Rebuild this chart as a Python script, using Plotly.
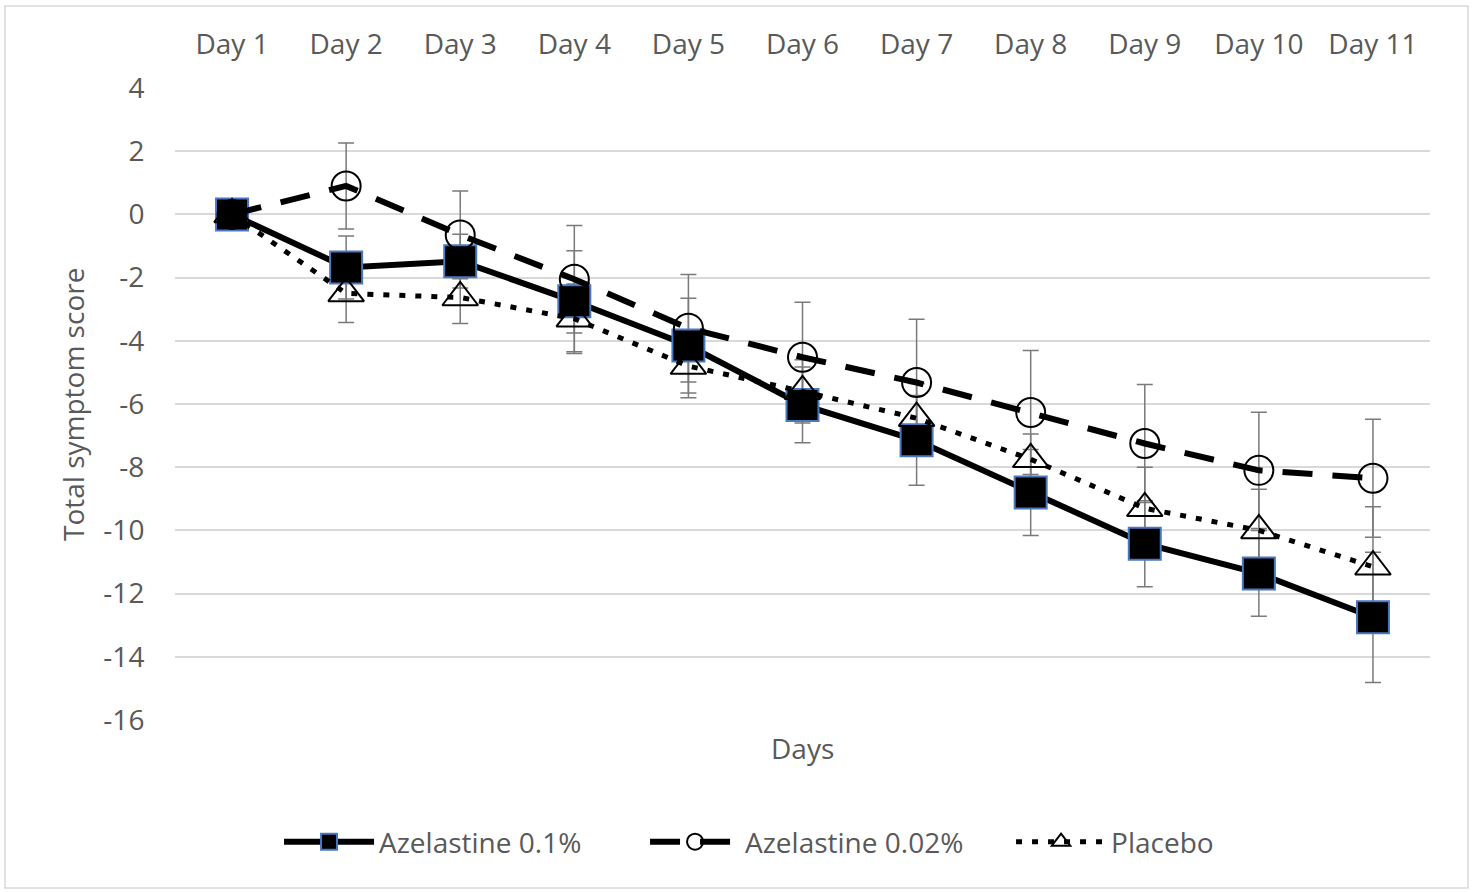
import plotly.graph_objects as go

days = ["Day 1", "Day 2", "Day 3", "Day 4", "Day 5", "Day 6", "Day 7", "Day 8", "Day 9", "Day 10", "Day 11"]

aze01 = [0, -1.68, -1.48, -2.75, -4.15, -6.03, -7.15, -8.8, -10.42, -11.36, -12.75]
aze01_err = [0, 1.0, 0.85, 1.6, 1.5, 1.2, 1.42, 1.36, 1.36, 1.36, 2.06]

aze002 = [0, 0.9, -0.65, -2.05, -3.6, -4.52, -5.32, -6.27, -7.25, -8.1, -8.35]
aze002_err = [0, 1.36, 1.39, 1.7, 1.7, 1.74, 2.0, 1.96, 1.87, 1.84, 1.87]

placebo = [0, -2.5, -2.63, -3.3, -4.8, -5.6, -6.45, -7.75, -9.3, -10.0, -11.15]
placebo_err = [0, 0.92, 0.82, 1.1, 1.0, 1.0, 1.1, 0.8, 1.3, 1.3, 1.9]

y_ticks = [4, 2, 0, -2, -4, -6, -8, -10, -12, -14, -16]
y_ticktext = ["4", "2", "0", "-2", "-4", "-6", "-8", "-10", "-12", "-14", "-16"]

FONT = "Open Sans"
TXT = "#595959"
FS = 28

fig = go.Figure()

err_style = dict(type="data", color="#7a7a7a", thickness=1.5, width=8, visible=True)

# error bars first (drawn beneath lines and markers)
for yv, ev in [(aze01, aze01_err), (aze002, aze002_err), (placebo, placebo_err)]:
    fig.add_trace(go.Scatter(
        x=days, y=yv, mode="markers", showlegend=False, hoverinfo="skip",
        marker=dict(size=1, color="rgba(0,0,0,0)"),
        error_y=dict(array=ev, **err_style),
    ))

fig.add_trace(go.Scatter(
    x=days, y=aze01, name="Azelastine 0.1%", mode="lines+markers",
    line=dict(color="black", width=6),
    marker=dict(symbol="square", size=32, color="black", line=dict(color="#4a78c0", width=2)),
))
fig.add_trace(go.Scatter(
    x=days, y=aze002, name="Azelastine 0.02%", mode="lines+markers",
    line=dict(color="black", width=6, dash="30px,20px"),
    marker=dict(symbol="circle-open", size=29, color="black", line=dict(color="black", width=2)),
))
fig.add_trace(go.Scatter(
    x=days, y=placebo, name="Placebo", mode="lines+markers",
    line=dict(color="black", width=5, dash="6px,10px"),
    marker=dict(symbol="triangle-up-open", size=31, color="black", line=dict(color="black", width=2)),
))

fig.update_layout(
    width=1476, height=892,
    margin=dict(l=175, r=46, t=88, b=172),
    paper_bgcolor="white", plot_bgcolor="white",
    font=dict(family=FONT, size=FS, color=TXT),
    showlegend=True,
    legend=dict(orientation="h", x=0.0829, xanchor="left", y=-0.193, yanchor="middle",
                font=dict(family=FONT, size=FS, color=TXT), itemwidth=90, entrywidth=261),
    xaxis=dict(type="category", categoryorder="array", categoryarray=days,
               range=[-0.5, 10.5], side="top", showgrid=False, zeroline=False,
               showline=False, ticks="outside", ticklen=22, tickcolor="rgba(0,0,0,0)",
               tickfont=dict(family=FONT, size=FS, color=TXT)),
    yaxis=dict(range=[-16, 4], tickvals=y_ticks, ticktext=y_ticktext, showgrid=True,
               gridcolor="#d9d9d9", gridwidth=1.5, zeroline=False, showline=False,
               ticks="outside", ticklen=24, tickcolor="rgba(0,0,0,0)",
               tickfont=dict(family=FONT, size=FS, color=TXT)),
    annotations=[
        dict(text="Days", xref="paper", yref="paper", x=0.5, y=-0.0443, xanchor="center",
             yanchor="middle", showarrow=False, font=dict(family=FONT, size=FS, color=TXT)),
        dict(text="Total symptom score", xref="paper", yref="paper", x=-0.0813, y=0.5,
             xanchor="center", yanchor="middle", textangle=-90, showarrow=False,
             font=dict(family=FONT, size=FS, color=TXT)),
    ],
    shapes=[dict(type="rect", xref="paper", yref="paper", x0=-0.1355, x1=1.0303,
                 y0=-0.2658, y1=1.1297, line=dict(color="#d9d9d9", width=1.5))],
)

fig.write_html("out.html", config={"displayModeBar": False},
               post_script="document.body.style.margin='0';")
